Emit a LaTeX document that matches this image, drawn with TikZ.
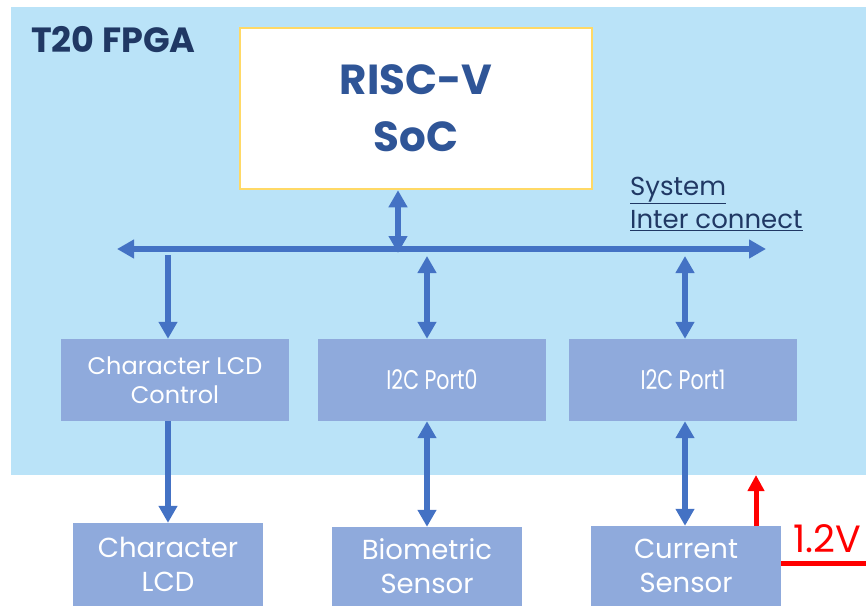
\documentclass[tikz,border=0pt]{standalone}
\usepackage{fontspec}
\setmainfont{Poppins}
\newfontfamily\narrowfont[FakeStretch=0.76]{Poppins}
\usetikzlibrary{arrows.meta}
\definecolor{fpgabg}{HTML}{BAE3F8}
\definecolor{blockfill}{HTML}{8FAADC}
\definecolor{linkblue}{HTML}{4472C4}
\definecolor{socedge}{HTML}{FFD966}
\definecolor{navy}{HTML}{203864}
\definecolor{socblue}{HTML}{2F5597}
\definecolor{pwrred}{HTML}{FF0000}
\begin{document}
\begin{tikzpicture}[x=1pt,y=-1pt,
  block/.style={fill=blockfill, text=white, align=center, inner sep=0pt,
    font=\fontsize{24}{29}\selectfont},
  upper/.style={block, minimum width=228pt, minimum height=82pt},
  port/.style={upper, font=\narrowfont\fontsize{27}{29}\selectfont},
  lower/.style={block, minimum width=190pt, minimum height=80pt,
    font=\fontsize{27.5}{34}\selectfont},
  link/.style={draw=linkblue, line width=6pt, -{Triangle[width=18pt,length=17pt]}},
  dlink/.style={draw=linkblue, line width=6pt,
    {Triangle[width=18pt,length=17pt]}-{Triangle[width=18pt,length=17pt]}},
  power/.style={draw=pwrred, line width=5pt},
]
\useasboundingbox (0,0) rectangle (866,608);
% FPGA fabric
\fill[fpgabg] (11,7) rectangle (866,475);
\node[anchor=west, text=navy, font=\fontsize{35}{40}\selectfont\bfseries, inner sep=0pt]
  (fpga) at (31,40) {T20 FPGA};

% processor
\node[draw=socedge, line width=2.5pt, fill=white, minimum width=352pt, minimum height=161pt,
  text=socblue, font=\fontsize{42}{57}\selectfont\bfseries, align=center, inner sep=0pt]
  (soc) at (416,108.5) {RISC-V\\SoC};

% interconnect bus
\coordinate (busL) at (117,249);
\coordinate (busR) at (766,249);
\draw[dlink] (busL) -- (busR);
\node[anchor=north west, text=navy, align=left, inner sep=0pt,
  font=\fontsize{26}{33}\selectfont] (buslabel) at (630,177)
  {\underline{System}\\\underline{Inter connect}};

% peripherals
\node[upper] (lcdctl) at (175,380) {Character LCD\\Control};
\node[port] (i2c0) at (432,380) {I2C Port0};
\node[port] (i2c1) at (683,380) {I2C Port1};

% external devices
\node[lower, minimum height=83pt] (lcd) at (168,564.5) {Character\\LCD};
\node[lower, minimum height=79pt] (bio) at (427,566.5) {Biometric\\Sensor};
\node[lower] (cur) at (686,566) {Current\\Sensor};

% bus taps
\draw[dlink] ([xshift=-18pt]soc.south) -- ([xshift=-18pt]soc.south |- 0,253);
\draw[link] ([xshift=-7pt]lcdctl.north |- 0,255) -- ([xshift=-7pt]lcdctl.north);
\draw[dlink] ([xshift=-5pt]i2c0.north |- 0,256) -- ([xshift=-5pt]i2c0.north);
\draw[dlink] ([xshift=2pt]i2c1.north |- 0,256) -- ([xshift=2pt]i2c1.north);

% device links
\draw[link] ([xshift=-7pt]lcdctl.south) -- (lcd.north);
\draw[dlink] ([xshift=-5pt]i2c0.south) -- (bio.north);
\draw[dlink] ([xshift=2pt]i2c1.south) -- ([xshift=-1pt]cur.north);

% supply measurement
\coordinate (rail) at (866,563);
\draw[power] (cur.east |- rail) -- (rail);
\draw[power, -{Triangle[width=16pt,length=16pt]}]
  ([xshift=70pt]cur.north) -- ([xshift=70pt]cur.north |- 0,475);
\node[anchor=base west, text=pwrred, font=\fontsize{38}{44}\selectfont, inner sep=0pt]
  (volt) at (793,552) {1.2V};
\end{tikzpicture}
\end{document}
